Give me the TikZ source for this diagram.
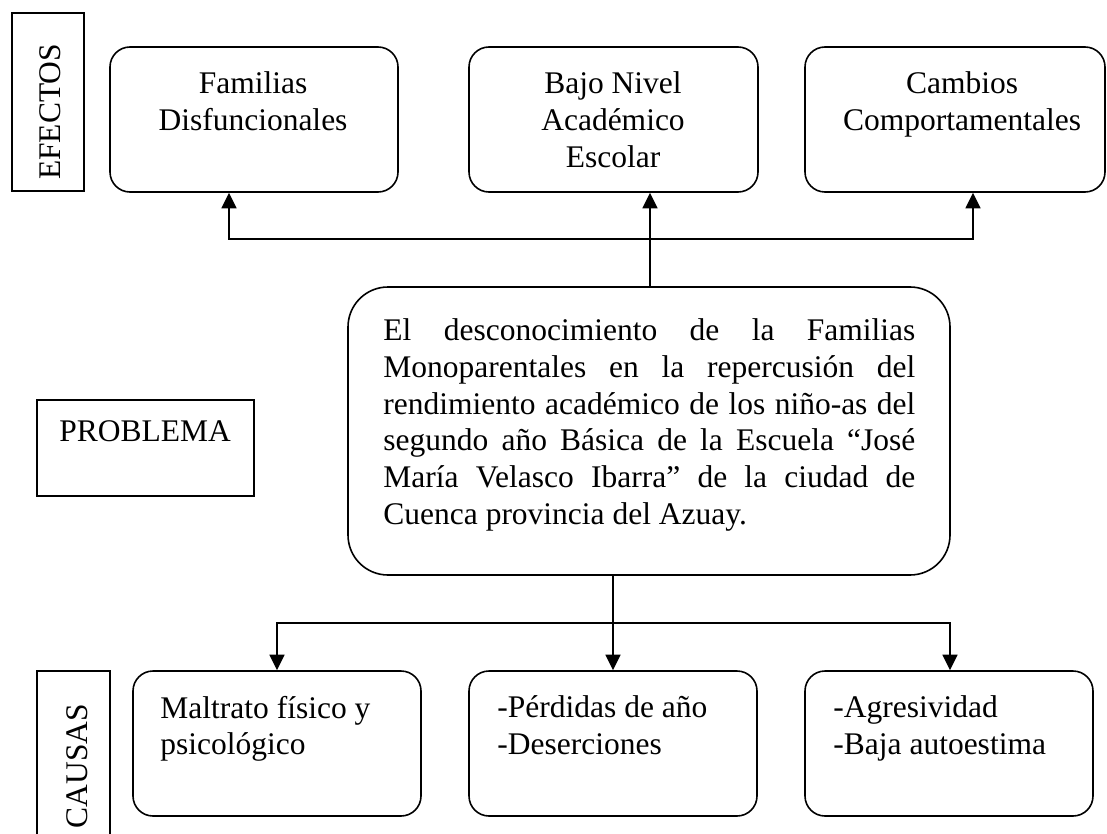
\documentclass[tikz,border=0pt]{standalone}
\usepackage{fontspec}
\setmainfont{Liberation Serif}
\usepackage{tikz}
\usetikzlibrary{arrows.meta,positioning}
\tikzstyle{caja}=[draw, rounded corners=10pt, line width=0.8pt, inner sep=0pt, minimum width=144pt, minimum height=72.5pt]
\tikzstyle{marco}=[draw, line width=0.8pt, inner sep=0pt]
\tikzstyle{texto}=[inner sep=0pt, font=\fontsize{15.75pt}{18.35pt}\selectfont]
\tikzstyle{punta}=[line width=0.8pt, {Triangle[length=7.8pt,width=7.5pt]}-{Triangle[length=7.8pt,width=7.5pt]}]
\tikzstyle{flecha}=[line width=0.8pt, -{Triangle[length=7.8pt,width=7.5pt]}]

\begin{document}
\begin{tikzpicture}[x=0.5pt, y=-0.5pt]
\useasboundingbox (0,0) rectangle (1107,834);
% efectos
\node[marco, minimum width=36pt, minimum height=89pt] (efe) at (48,102) {};
\node[texto, rotate=90] (efet) at (50,112) {EFECTOS};
\node[caja] (fam) at (254,119.5) {};
\node[caja, minimum width=144.5pt] (bajo) at (613.5,119.5) {};
\node[caja, minimum width=150pt] (cam) at (955,119.5) {};
\node[texto, anchor=north, align=center] (famt) at (253,71.5) {Familias\\Disfuncionales};
\node[texto, anchor=north, align=center] (bajot) at (613,71.5) {Bajo Nivel\\Académico\\Escolar};
\node[texto, anchor=north, align=center] (camt) at (962,71.5) {Cambios\\Comportamentales};
% problema
\node[marco, minimum width=108.5pt, minimum height=48pt] (prb) at (145.5,448) {};
\node[texto, anchor=base west] (prbt) at (59,441) {PROBLEMA};
\node[draw, line width=0.8pt, rounded corners=20pt, minimum width=301pt, minimum height=144pt] (prob) at (649,431) {};
\node[texto, anchor=north west, text width=266pt, align=justify] (probt) at (383,318.5)
  {\tolerance=10000 \hyphenpenalty=10000 \exhyphenpenalty=10000
   El desconocimiento de la Familias\linebreak
   Monoparentales en la repercusión del\linebreak
   rendimiento académico de los niño-as del\linebreak
   segundo año Básica de la Escuela “José\linebreak
   María Velasco Ibarra” de la ciudad de\linebreak
   Cuenca provincia del Azuay.};
% causas
\node[marco, minimum width=36.5pt, minimum height=89.5pt] (cau) at (73.5,760.5) {};
\node[texto, rotate=90] (caut) at (77,766) {CAUSAS};
\node[caja] (mal) at (277,743.5) {};
\node[caja] (per) at (613,743.5) {};
\node[caja] (agr) at (949,743.5) {};
\node[texto, anchor=north west, align=left] (malt) at (160,695.5) {Maltrato físico y\\psicológico};
\node[texto, anchor=north west, align=left] (pert) at (497,695.5) {-Pérdidas de año\\-Deserciones};
\node[texto, anchor=north west, align=left] (agrt) at (833,695.5) {-Agresividad\\-Baja autoestima};
% conectores
\coordinate (fl) at (229,239);
\coordinate (fr) at (973,239);
\coordinate (fm) at (650,239);
\draw[flecha] (prob.north -| fm) -- (bajo.south -| fm);
\draw[punta] (fam.south -| fl) -- (fl) -- (fr) -- (cam.south -| fr);
\coordinate (bl) at (277,623);
\coordinate (br) at (950,623);
\draw[flecha] (prob.south -| per) -- (per.north);
\draw[punta] (mal.north -| bl) -- (bl) -- (br) -- (agr.north -| br);
\end{tikzpicture}
\end{document}
